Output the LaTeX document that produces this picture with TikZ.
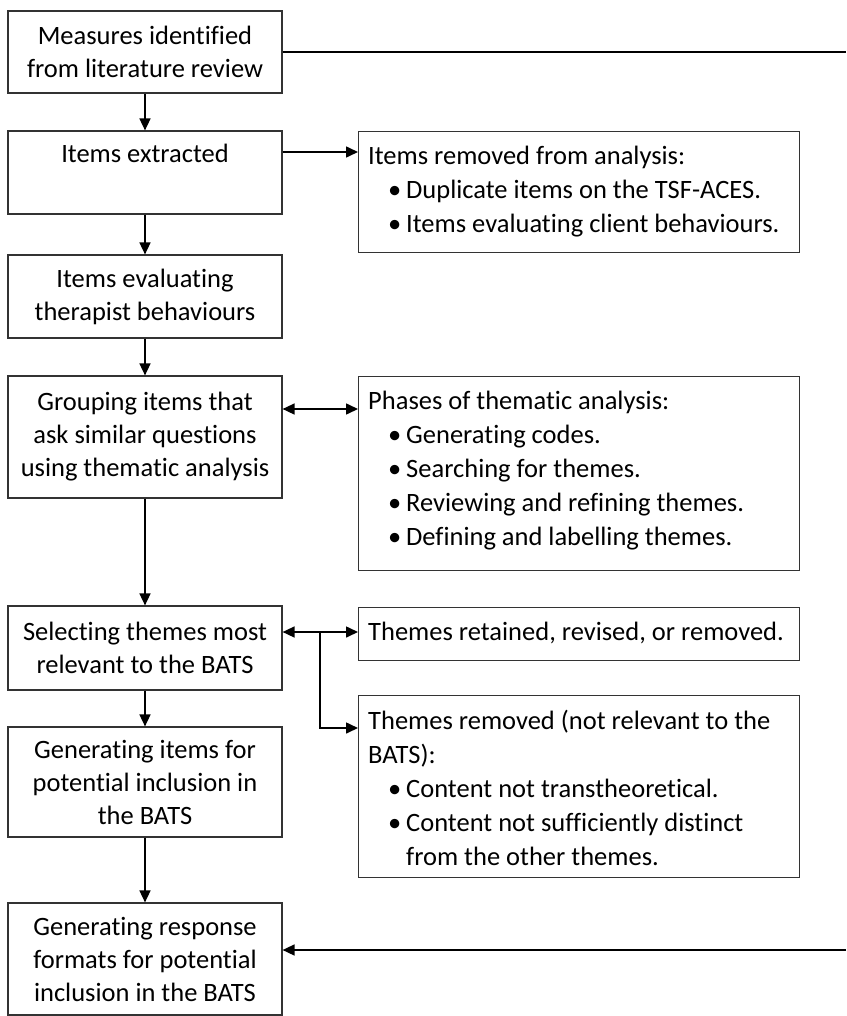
\documentclass[tikz,border=0pt]{standalone}
\usepackage{fontspec}
\setmainfont{Carlito}[Ligatures=NoCommon]
\usetikzlibrary{arrows.meta}
\begin{document}
\begin{tikzpicture}[x=1pt,y=-1pt,
  lbox/.style={draw=black!80, line width=1.2pt, minimum width=274pt, inner sep=0pt,
    align=center, font=\fontsize{26.5}{33}\selectfont},
  rbox/.style={draw=black!80, line width=1.2pt, minimum width=441pt, inner sep=0pt, anchor=north west},
  rtext/.style={anchor=north west, inner sep=0pt, align=left, font=\fontsize{26.5}{34}\selectfont},
  arr/.style={line width=1.6pt, -{Triangle[length=12pt,width=11pt]}},
  darr/.style={line width=1.6pt, {Triangle[length=12pt,width=11pt]}-{Triangle[length=12pt,width=11pt]}},
  plain/.style={line width=1.6pt}]
\useasboundingbox (0,0) rectangle (846,1016);
% left column
\node[lbox, minimum height=82pt] (b1) at (145,52) {Measures identified\\from literature review};
\node[lbox, minimum height=83pt] (b2) at (145,172.5) {\raisebox{-5pt}{Items extracted}\\\strut};
\node[lbox, minimum height=83pt] (b3) at (145,296.5) {Items evaluating\\therapist behaviours};
\node[lbox, minimum height=122pt] (b4) at (145,437) {Grouping items that\\ask similar questions\\using thematic analysis};
\node[lbox, minimum height=84pt] (b5) at (145,648) {Selecting themes most\\relevant to the BATS};
\node[lbox, minimum height=110pt] (b6) at (145,782) {Generating items for\\potential inclusion in\\the BATS};
\node[lbox, minimum height=112pt] (b7) at (145,959) {Generating response\\formats for potential\\inclusion in the BATS};
% right column
\node[rbox, minimum height=121pt] (r1) at (358,131) {};
\node[rbox, minimum height=194pt] (r2) at (358,376) {};
\node[rbox, minimum height=53pt] (r3) at (358,607) {};
\node[rbox, minimum height=182pt] (r4) at (358,695) {};
\newcommand{\bul}{\hspace*{20pt}\makebox[18pt][l]{\textbullet}}
\node[rtext] (t1) at (368,146) {Items removed from analysis:\\
  \bul Duplicate items on the TSF-ACES.\\
  \bul Items evaluating client behaviours.};
\node[rtext] (t2) at (368,391) {Phases of thematic analysis:\\
  \bul Generating codes.\\
  \bul Searching for themes.\\
  \bul Reviewing and refining themes.\\
  \bul Defining and labelling themes.};
\node[rtext] (t3) at (368,622) {Themes retained, revised, or removed.};
\node[rtext] (t4) at (368,710) {Themes removed (not relevant to the\\
  BATS):\\
  \bul Content not transtheoretical.\\
  \bul Content not sufficiently distinct\\
  \hspace*{38pt}from the other themes.};
% free ends
\coordinate (topR) at (846,52);
\coordinate (botR) at (846,950);
\coordinate (br) at (320,632);
% connectors
\draw[plain] (b1.east) -- (topR);
\draw[arr] (botR) -- (b7.east |- botR);
\draw[arr] (b1.south) -- (b2.north);
\draw[arr] (b2.south) -- (b3.north);
\draw[arr] (b3.south) -- (b4.north);
\draw[arr] (b4.south) -- (b5.north);
\draw[arr] (b5.south) -- (b6.north);
\draw[arr] (b6.south) -- (b7.north);
\draw[arr] (b2.east |- 0,152) -- (r1.west |- 0,152);
\draw[darr] (b4.east |- 0,409) -- (r2.west |- 0,409);
\draw[darr] (b5.east |- br) -- (r3.west |- br);
\draw[arr] (br) -- (320,728) -- (r4.west |- 0,728);
\end{tikzpicture}
\end{document}
